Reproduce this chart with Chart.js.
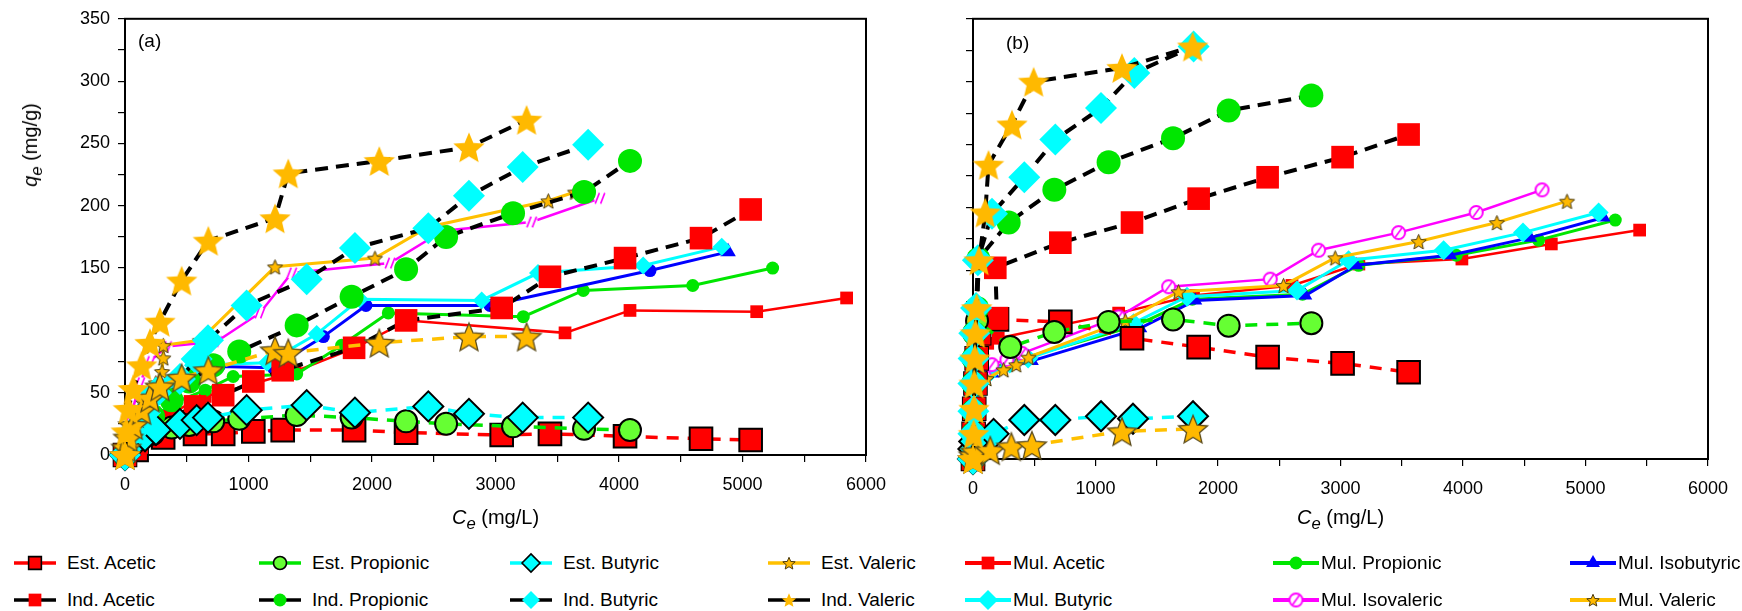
<!DOCTYPE html>
<html>
<head>
<meta charset="utf-8">
<title>Adsorption isotherms</title>
<script src="https://cdn.jsdelivr.net/npm/chart.js@4.4.1/dist/chart.umd.min.js"></script>
<style>
  body { margin: 0; background: #fff; width: 1742px; height: 611px; position: relative; overflow: hidden;
         font-family: 'Liberation Sans', Arial, sans-serif; color: #000; }
  .wrap { position: absolute; top: 0; }
  .ttl { position: absolute; font-size: 20px; white-space: nowrap; }
  .tag { position: absolute; font-size: 19px; }
  .lg { position: absolute; height: 24px; display: flex; align-items: center; font-size: 19px; white-space: nowrap; }
</style>
</head>
<body>
<div class="wrap" style="left:0;width:900px;height:540px"><canvas id="chartA" width="900" height="540"></canvas></div>
<div class="wrap" style="left:900px;width:842px;height:540px"><canvas id="chartB" width="842" height="540"></canvas></div>

<div class="tag" style="left:138px;top:30px">(a)</div>
<div class="tag" style="left:1006px;top:32px">(b)</div>
<div class="ttl" style="left:33px;top:145px;transform:translate(-50%,-50%) rotate(-90deg)"><i>q</i><sub><i>e</i></sub> (mg/g)</div>
<div class="ttl" id="xTitleA" style="top:506px"><i>C</i><sub><i>e</i></sub> (mg/L)</div>
<div class="ttl" id="xTitleB" style="top:506px"><i>C</i><sub><i>e</i></sub> (mg/L)</div>
<div id="legend"></div>

<script>
// ---------- panel (a): [Ce, qe] pairs ----------
const aEstAcetic = [[0,0],[94,4],[309,14],[567,17],[795,17],[1039,19],[1277,20],[1855,20],[2276,18],[3050,16],[3441,17],[4049,15],[4664,13],[5066,12]];
const aIndAcetic = [[0,0],[94,10],[309,27],[567,39],[795,48],[1039,59],[1277,68],[1855,86],[2276,108],[3050,118],[3441,143],[4049,158],[4664,174],[5066,197]];
const aEstPropionic = [[0,0],[105,14],[227,17],[378,22],[519,24],[714,27],[925,29],[1390,32],[1835,30],[2276,27],[2600,25],[3142,23],[3717,21],[4089,20]];
const aIndPropionic = [[0,0],[105,18],[227,31],[378,44],[519,59],[714,72],[925,83],[1390,104],[1835,127],[2276,149],[2600,175],[3142,194],[3717,211],[4089,236]];
const aEstButyric = [[0,0],[60,8],[162,15],[251,20],[445,25],[580,28],[672,30],[985,36],[1471,40],[1862,34],[2456,39],[2785,33],[3220,30],[3750,30]];
const aIndButyric = [[0,0],[60,18],[162,34],[251,50],[445,61],[580,77],[672,92],[985,120],[1471,141],[1862,166],[2456,182],[2785,208],[3220,231],[3750,249]];
const aEstValeric = [[0,0],[10,6],[27,14],[67,24],[135,36],[202,46],[283,55],[459,62],[675,68],[1215,84],[1322,82],[2059,90],[2785,95],[3252,95]];
const aIndValeric = [[0,0],[10,19],[27,37],[67,53],[135,72],[202,90],[283,107],[459,140],[675,172],[1215,190],[1322,226],[2059,236],[2785,247],[3252,269]];

const aMulAcetic = [[0,0],[60,10],[200,22],[400,35],[650,47],[1000,56],[1377,67],[1862,86],[2290,108],[3563,98],[4089,116],[5115,115],[5843,126]];
const aMulPropionic = [[0,0],[80,14],[200,28],[400,42],[650,52],[876,63],[1390,65],[1754,88],[2132,114],[3225,111],[3711,132],[4597,136],[5244,150]];
const aMulIsobutyric = [[0,0],[80,18],[200,36],[350,52],[560,66],[760,71],[1200,70],[1606,95],[1951,120],[2955,120],[4251,148],[4883,163]];
const aMulButyric = [[0,0],[80,20],[200,40],[350,58],[550,72],[1150,74],[1552,97],[1900,125],[2888,124],[3344,146],[4196,152],[4832,167]];
const aMulIsovaleric = [[0,0],[40,28],[120,58],[200,75],[337,87],[742,91],[1093,114],[1350,146],[2146,154],[2575,180],[3293,187],[3846,206]];
const aMulValeric = [[0,0],[60,22],[150,42],[250,58],[300,67],[310,78],[310,88],[607,92],[1215,151],[2024,158],[2456,183],[3428,204],[3644,211]];

// ---------- panel (b) ----------
const bEstAcetic = [[0,0],[5,20],[10,40],[20,60],[30,80],[50,100],[196,111],[713,109],[1298,96],[1842,89],[2405,81],[3017,76],[3556,69]];
const bIndAcetic = [[0,0],[5,20],[10,40],[20,60],[30,80],[50,100],[196,112],[182,152],[713,172],[1298,188],[1842,207],[2405,224],[3017,240],[3556,258]];
const bEstPropionic = [[0,0],[3,20],[3,38],[3,60],[5,80],[10,100],[33,110],[304,89],[664,101],[1107,109],[1633,111],[2087,106],[2762,108]];
const bIndPropionic = [[0,0],[3,20],[3,38],[3,60],[5,80],[10,100],[33,120],[44,159],[291,188],[664,214],[1107,236],[1633,255],[2087,277],[2762,289]];
const bEstButyric = [[0,0],[3,8],[10,14],[168,20],[419,31],[672,31],[1045,34],[1306,32],[1796,34]];
const bIndButyric = [[0,0],[3,20],[3,38],[3,60],[5,80],[10,100],[25,120],[40,158],[155,195],[419,224],[672,254],[1045,279],[1317,307],[1801,328]];
const bEstValeric = [[0,0],[5,3],[20,6],[141,7],[313,10],[481,11],[1216,22],[1796,24]];
const bIndValeric = [[0,0],[5,20],[8,40],[10,60],[15,80],[20,100],[30,120],[50,158],[100,196],[127,234],[318,266],[495,300],[1216,311],[1793,328]];

const bMulAcetic = [[0,0],[20,40],[60,80],[120,92],[206,96],[1189,116],[1800,130],[2604,138],[3150,155],[3991,159],[4721,171],[5442,182]];
const bMulPropionic = [[0,0],[15,35],[60,65],[150,72],[300,77],[1330,106],[1790,127],[2690,131],[3148,154],[3945,162],[4617,174],[5243,190]];
const bMulIsobutyric = [[0,0],[15,30],[60,60],[160,68],[320,74],[481,78],[1366,104],[1815,126],[2713,130],[3129,154],[3896,162],[4549,176],[5148,192]];
const bMulButyric = [[0,0],[15,32],[60,62],[150,70],[300,76],[450,80],[1311,108],[1747,129],[2645,134],[3066,158],[3842,166],[4490,180],[5107,196]];
const bMulIsovaleric = [[0,0],[20,30],[90,66],[155,75],[277,79],[400,84],[1189,113],[1597,137],[2427,143],[2821,166],[3474,180],[4108,196],[4645,214]];
const bMulValeric = [[0,0],[25,30],[110,64],[250,71],[353,75],[454,81],[1243,110],[1678,133],[2535,138],[2957,160],[3638,173],[4277,188],[4849,205]];

const xTicks = [0, 1000, 2000, 3000, 4000, 5000, 6000];
const yTicks = [0, 50, 100, 150, 200, 250, 300, 350];

const FONT = "'Liberation Sans', Arial, sans-serif";
const RED = '#ff0000', GREEN = '#00e600', LGREEN = '#66ff33', CYAN = '#00ffff',
      ORANGE = '#ffb900', BLUE = '#0000ff', MAGENTA = '#ff00ff';

// filled five point star used for the valeric series
function starImg(size, fill, stroke, lw) {
    const c = document.createElement('canvas');
    c.width = c.height = size;
    const g = c.getContext('2d');
    const cx = size / 2, cy = size / 2 + size * 0.05;
    const R = size / 2 - (lw || 0) - 0.5, r = R * 0.45;
    g.beginPath();
    for (let i = 0; i < 10; i++) {
        const a = -Math.PI / 2 + i * Math.PI / 5;
        const rad = i % 2 ? r : R;
        g.lineTo(cx + rad * Math.cos(a), cy + rad * Math.sin(a));
    }
    g.closePath();
    g.fillStyle = fill;
    g.fill();
    if (lw) {
        g.lineWidth = lw;
        g.strokeStyle = stroke;
        g.stroke();
    }
    return c;
}

// open magenta circle with a slash (isovaleric)
function isoImg(r, ring) {
    const s = Math.ceil(r * 2 + 6);
    const c = document.createElement('canvas');
    c.width = c.height = s;
    const g = c.getContext('2d');
    const m = s / 2;
    g.beginPath();
    g.arc(m, m, r, 0, Math.PI * 2);
    g.fillStyle = '#fff';
    g.fill();
    g.strokeStyle = MAGENTA;
    g.lineWidth = 2;
    if (ring) g.stroke();
    g.lineWidth = 1.6;
    g.beginPath();
    if (ring) {
        g.moveTo(m - r * 0.5, m + r * 0.7);
        g.lineTo(m + r * 0.5, m - r * 0.7);
    } else {
        g.moveTo(m - r * 0.8, m + r * 0.9); g.lineTo(m - r * 0.1, m - r * 0.9);
        g.moveTo(m + r * 0.1, m + r * 0.9); g.lineTo(m + r * 0.8, m - r * 0.9);
    }
    g.stroke();
    return c;
}

const bigStar = starImg(34, ORANGE, ORANGE, 0);
const bigStarEdge = starImg(34, ORANGE, '#5a4a1a', 1.3);
const smallStar = starImg(19, ORANGE, '#4a3a10', 1);
const legStar = starImg(16, ORANGE, '#4a3a10', 1);
const legStarPlain = starImg(16, ORANGE, ORANGE, 0);

// marker + line look of every series
const sty = {
    estAcetic:     { line: RED,    dash: [12, 9], width: 3.5, pointStyle: 'rect',    radius: 16, fill: RED,    edge: '#000', edgeW: 2 },
    indAcetic:     { line: '#000', dash: [13, 8], width: 4,   pointStyle: 'rect',    radius: 16, fill: RED,    edge: RED,    edgeW: 0 },
    estPropionic:  { line: GREEN,  dash: [12, 9], width: 3.5, pointStyle: 'circle',  radius: 11, fill: LGREEN, edge: '#000', edgeW: 2 },
    indPropionic:  { line: '#000', dash: [13, 8], width: 4,   pointStyle: 'circle',  radius: 12, fill: GREEN,  edge: GREEN,  edgeW: 0 },
    estButyric:    { line: CYAN,   dash: [12, 9], width: 3.5, pointStyle: 'rectRot', radius: 15, fill: CYAN,   edge: '#000', edgeW: 2 },
    indButyric:    { line: '#000', dash: [13, 8], width: 4,   pointStyle: 'rectRot', radius: 16, fill: CYAN,   edge: CYAN,   edgeW: 0 },
    estValeric:    { line: '#ffc000', dash: [12, 9], width: 3.5, pointStyle: bigStarEdge, radius: 17, fill: ORANGE, edge: ORANGE, edgeW: 0 },
    indValeric:    { line: '#000', dash: [13, 8], width: 4,   pointStyle: bigStar,   radius: 17, fill: ORANGE, edge: ORANGE, edgeW: 0 },
    mulAcetic:     { line: RED,     dash: [], width: 2.5, pointStyle: 'rect',    radius: 9,   fill: RED,     edge: RED,     edgeW: 0 },
    mulPropionic:  { line: GREEN,   dash: [], width: 3,   pointStyle: 'circle',  radius: 6.5, fill: GREEN,   edge: GREEN,   edgeW: 0 },
    mulIsobutyric: { line: BLUE,    dash: [], width: 3,   pointStyle: 'triangle',radius: 8,   fill: BLUE,    edge: BLUE,    edgeW: 0 },
    mulButyric:    { line: CYAN,    dash: [], width: 3,   pointStyle: 'rectRot', radius: 10,  fill: CYAN,    edge: CYAN,    edgeW: 0 },
    mulIsovaleric: { line: MAGENTA, dash: [], width: 2.5, pointStyle: isoImg(6.5, true), radius: 7, fill: '#fff', edge: MAGENTA, edgeW: 0 },
    mulValeric:    { line: '#ffc000', dash: [], width: 3, pointStyle: smallStar, radius: 9, fill: ORANGE, edge: ORANGE, edgeW: 0 }
};

function ds(label, pairs, s, extra) {
    return Object.assign({
        label: label,
        data: pairs.map(p => ({ x: p[0], y: p[1] })),
        showLine: true,
        clip: false,
        borderColor: s.line,
        borderWidth: s.width,
        borderDash: s.dash,
        pointStyle: s.pointStyle,
        pointRadius: s.radius,
        pointBackgroundColor: s.fill,
        pointBorderColor: s.edge,
        pointBorderWidth: s.edgeW,
        tension: 0
    }, extra || {});
}

// bottom-most first; reversed before handing to Chart.js so the last one ends on top
const setsA = [
    ds('Mul. Acetic', aMulAcetic, sty.mulAcetic),
    ds('Mul. Propionic', aMulPropionic, sty.mulPropionic),
    ds('Mul. Isobutyric', aMulIsobutyric, sty.mulIsobutyric, {
        pointStyle: c => c.dataIndex === aMulIsobutyric.length - 1 ? 'triangle' : 'circle',
        pointRadius: c => c.dataIndex === aMulIsobutyric.length - 1 ? 9 : 6.5
    }),
    ds('Mul. Butyric', aMulButyric, sty.mulButyric, { pointRadius: 9 }),
    ds('Mul. Isovaleric', aMulIsovaleric, sty.mulIsovaleric, { pointStyle: isoImg(6, false) }),
    ds('Mul. Valeric', aMulValeric, sty.mulValeric),
    ds('Est. Acetic', aEstAcetic, sty.estAcetic),
    ds('Ind. Acetic', aIndAcetic, sty.indAcetic),
    ds('Est. Propionic', aEstPropionic, sty.estPropionic),
    ds('Ind. Propionic', aIndPropionic, sty.indPropionic),
    ds('Est. Butyric', aEstButyric, sty.estButyric),
    ds('Ind. Butyric', aIndButyric, sty.indButyric),
    ds('Est. Valeric', aEstValeric, sty.estValeric),
    ds('Ind. Valeric', aIndValeric, sty.indValeric)
].reverse();

const setsB = [
    ds('Mul. Acetic', bMulAcetic, sty.mulAcetic),
    ds('Mul. Propionic', bMulPropionic, sty.mulPropionic),
    ds('Mul. Isobutyric', bMulIsobutyric, sty.mulIsobutyric),
    ds('Mul. Butyric', bMulButyric, sty.mulButyric),
    ds('Mul. Isovaleric', bMulIsovaleric, sty.mulIsovaleric),
    ds('Mul. Valeric', bMulValeric, sty.mulValeric),
    ds('Est. Acetic', bEstAcetic, sty.estAcetic),
    ds('Ind. Acetic', bIndAcetic, sty.indAcetic),
    ds('Est. Propionic', bEstPropionic, sty.estPropionic),
    ds('Ind. Propionic', bIndPropionic, sty.indPropionic),
    ds('Est. Butyric', bEstButyric, sty.estButyric),
    ds('Ind. Butyric', bIndButyric, sty.indButyric),
    ds('Est. Valeric', bEstValeric, sty.estValeric),
    ds('Ind. Valeric', bIndValeric, sty.indValeric)
].reverse();

// box round the plot area, under the markers
const framePlugin = {
    id: 'frame',
    beforeDatasetsDraw(chart) {
        const a = chart.chartArea, ctx = chart.ctx;
        ctx.save();
        ctx.strokeStyle = '#000';
        ctx.lineWidth = 2;
        ctx.strokeRect(a.left, a.top, a.right - a.left, a.bottom - a.top);
        ctx.restore();
    }
};

function makePanel(id, sets, cfg) {
    return new Chart(document.getElementById(id), {
        type: 'scatter',
        data: { datasets: sets },
        plugins: [framePlugin],
        options: {
            responsive: false,
            animation: false,
            events: [],
            layout: { padding: { top: cfg.top, right: cfg.right, left: 0, bottom: 0 } },
            plugins: { legend: { display: false }, tooltip: { enabled: false } },
            scales: {
                x: {
                    type: 'linear', min: 0, max: 6000,
                    afterBuildTicks: s => { s.ticks = []; for (let v = 0; v <= 6000; v += 500) s.ticks.push({ value: v }); },
                    ticks: {
                        autoSkip: false, maxRotation: 0, color: '#000', padding: 12,
                        font: { family: FONT, size: 18 },
                        callback: v => xTicks.includes(v) ? String(v) : ''
                    },
                    grid: { drawOnChartArea: false, tickLength: 7, color: '#000', lineWidth: 1.2 },
                    border: { display: false },
                    afterFit: s => { s.height = cfg.xHeight; }
                },
                y: {
                    type: 'linear', min: 0, max: 350,
                    afterBuildTicks: s => { s.ticks = []; for (let v = 0; v <= 350; v += 25) s.ticks.push({ value: v }); },
                    ticks: {
                        autoSkip: false, color: '#000', padding: 8,
                        font: { family: FONT, size: 18 },
                        callback: v => cfg.yLabels && yTicks.includes(v) ? String(v) : ''
                    },
                    grid: { drawOnChartArea: false, tickLength: 7, color: '#000', lineWidth: 1.2 },
                    border: { display: false },
                    afterFit: s => { s.width = cfg.yWidth; }
                }
            }
        }
    });
}

const chartA = makePanel('chartA', setsA, { top: 18, right: 34, xHeight: 85, yWidth: 125, yLabels: true });
const chartB = makePanel('chartB', setsB, { top: 17.5, right: 34, xHeight: 81, yWidth: 73, yLabels: false });

// centre the axis titles under each plot
function placeTitle(elId, chart, offset) {
    const el = document.getElementById(elId);
    const mid = offset + (chart.chartArea.left + chart.chartArea.right) / 2;
    el.style.left = (mid - el.offsetWidth / 2) + 'px';
}
placeTitle('xTitleA', chartA, 0);
placeTitle('xTitleB', chartB, 900);

// ---------- legends ----------
const legendA = [
    ['Est. Acetic', sty.estAcetic, 13, 563], ['Est. Propionic', sty.estPropionic, 258, 563],
    ['Est. Butyric', sty.estButyric, 509, 563], ['Est. Valeric', sty.estValeric, 767, 563],
    ['Ind. Acetic', sty.indAcetic, 13, 600], ['Ind. Propionic', sty.indPropionic, 258, 600],
    ['Ind. Butyric', sty.indButyric, 509, 600], ['Ind. Valeric', sty.indValeric, 767, 600]
];
const legendB = [
    ['Mul. Acetic', sty.mulAcetic, 964, 563], ['Mul. Propionic', sty.mulPropionic, 1272, 563],
    ['Mul. Isobutyric', sty.mulIsobutyric, 1569, 563],
    ['Mul. Butyric', sty.mulButyric, 964, 600], ['Mul. Isovaleric', sty.mulIsovaleric, 1272, 600],
    ['Mul. Valeric', sty.mulValeric, 1569, 600]
];

function legendItem(text, s, x, y, solid) {
    const box = document.createElement('div');
    box.className = 'lg';
    box.style.left = x + 'px';
    box.style.top = (y - 12) + 'px';
    const w = solid ? 48 : 44;
    const c = document.createElement('canvas');
    c.width = w; c.height = 24;
    c.style.marginRight = solid ? '1px' : '10px';
    const g = c.getContext('2d');
    g.strokeStyle = s.line;
    g.lineWidth = solid ? 4 : 3.5;
    g.beginPath();
    g.moveTo(1, 12); g.lineTo(w - 1, 12);
    g.stroke();
    let ps = s.pointStyle, r;
    if (ps === bigStar) ps = legStarPlain;
    if (ps === bigStarEdge || ps === smallStar) ps = legStar;
    if (ps === 'rect') r = 9;
    else if (ps === 'rectRot') r = solid ? 10 : 9;
    else if (ps === 'circle') r = 6.5;
    else r = 8;
    g.fillStyle = s.fill;
    g.strokeStyle = s.edge;
    g.lineWidth = s.edgeW ? 1.6 : 0;
    Chart.helpers.drawPoint(g, { pointStyle: ps, radius: r, rotation: 0, borderWidth: s.edgeW ? 1.6 : 0 }, w / 2, 12);
    const t = document.createElement('span');
    t.textContent = text;
    box.appendChild(c);
    box.appendChild(t);
    document.getElementById('legend').appendChild(box);
}
legendA.forEach(it => legendItem(it[0], it[1], it[2], it[3], false));
legendB.forEach(it => legendItem(it[0], it[1], it[2], it[3], true));
</script>
</body>
</html>
